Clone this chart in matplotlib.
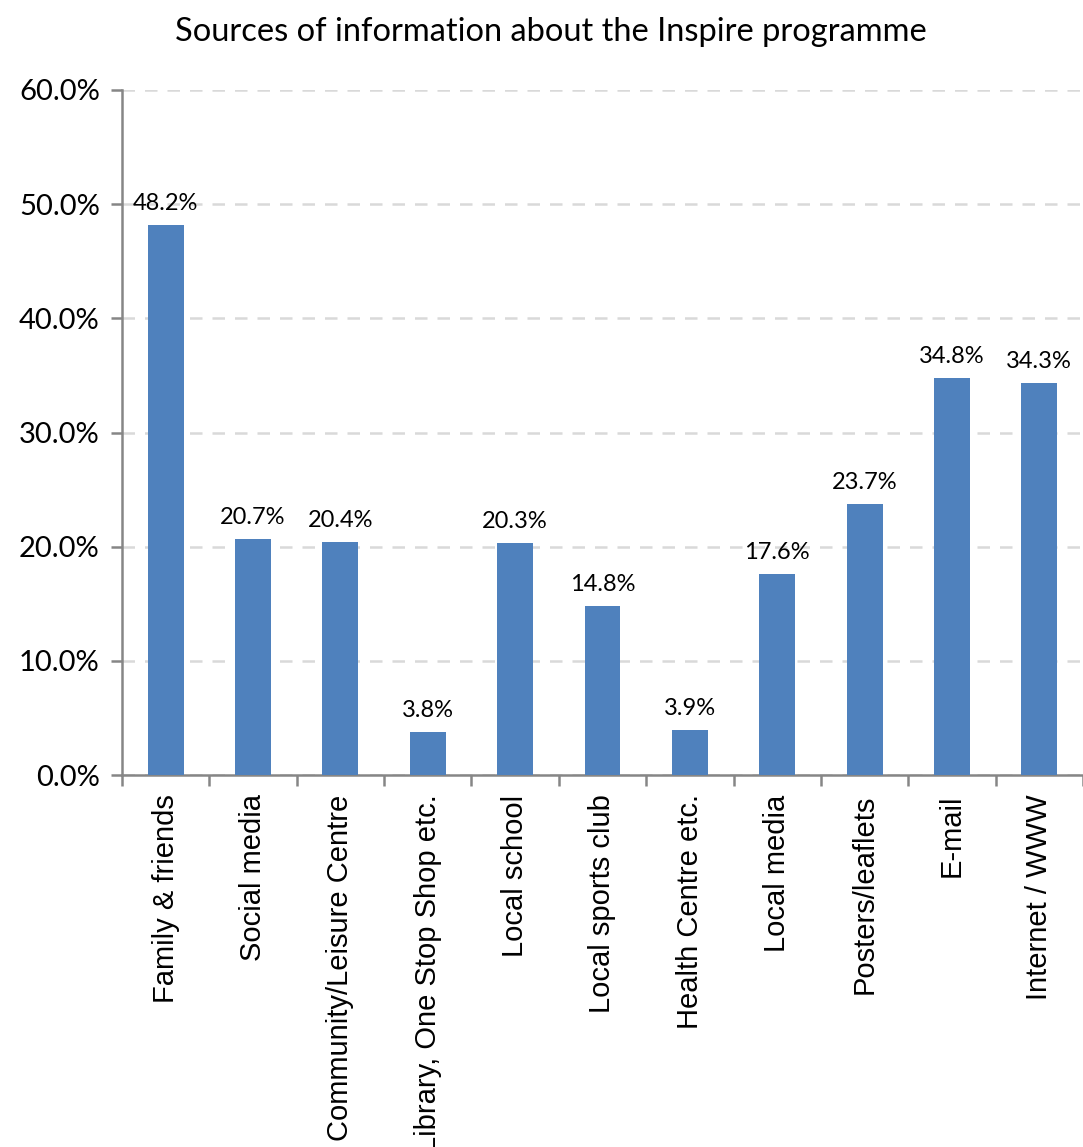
import matplotlib
matplotlib.use('Agg')
import matplotlib.pyplot as plt
import numpy as np
from matplotlib.ticker import FixedLocator, FuncFormatter

title = 'Sources of information about the Inspire programme'
categories = ['Family & friends', 'Social media', 'Community/Leisure Centre',
              'Library, One Stop Shop etc.', 'Local school', 'Local sports club',
              'Health Centre etc.', 'Local media', 'Posters/leaflets', 'E-mail',
              'Internet / WWW']
values = [48.2, 20.7, 20.4, 3.8, 20.3, 14.8, 3.9, 17.6, 23.7, 34.8, 34.3]
yticks = [0, 10, 20, 30, 40, 50, 60]

bar_color = '#4F81BD'
axis_color = '#868686'
grid_color = '#D9D9D9'

fig = plt.figure(figsize=(10.83, 11.47), dpi=100)
ax = fig.add_axes([122 / 1083, 1 - 775 / 1147, 1 - 122 / 1083, (775 - 90) / 1147])

x = np.arange(len(categories))
ax.bar(x, values, width=0.41, color=bar_color, zorder=3)
for xi, v in zip(x, values):
    ax.annotate(f'{v:.1f}%', (xi, v), xytext=(0, 8), textcoords='offset points',
                ha='center', va='bottom', fontsize=17, family='Lato', color='black')

ax.set_xlim(-0.5, len(categories) - 0.5)
ax.set_ylim(0, 60)
ax.set_yticks(yticks)
ax.yaxis.set_major_formatter(FuncFormatter(lambda v, p: f'{v:.1f}%'))
ax.grid(axis='y', color=grid_color, linestyle=(0, (5, 4)), linewidth=1.8, zorder=0)
ax.set_axisbelow(True)

ax.set_xticks(x)
ax.set_xticklabels(categories, rotation=90, fontsize=21, family='Liberation Sans',
                   va='top', ha='center')
ax.xaxis.set_minor_locator(FixedLocator(np.arange(len(categories) + 1) - 0.5))
ax.tick_params(axis='x', which='major', length=0, pad=14)
ax.tick_params(axis='x', which='minor', length=8, width=1.8, color=axis_color)
ax.tick_params(axis='y', length=8, width=1.8, color=axis_color, pad=8,
               labelsize=21)
for lab in ax.get_yticklabels():
    lab.set_family('Lato')

for side in ['top', 'right']:
    ax.spines[side].set_visible(False)
for side in ['left', 'bottom']:
    ax.spines[side].set_color(axis_color)
    ax.spines[side].set_linewidth(1.8)

fig.text(551 / 1083, 1 - 32 / 1147, title, ha='center', va='center',
         fontsize=23.5, family='Lato')

fig.savefig('out.png', dpi=100)
